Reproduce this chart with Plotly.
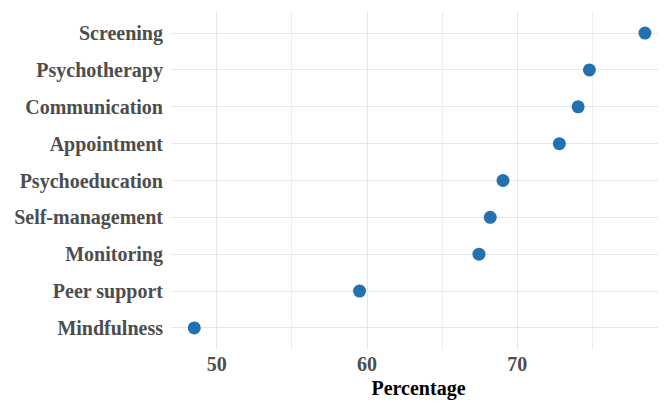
import plotly.graph_objects as go

categories = ["Screening", "Psychotherapy", "Communication", "Appointment",
              "Psychoeducation", "Self-management", "Monitoring",
              "Peer support", "Mindfulness"]
percentages = [78.5, 74.8, 74.05, 72.8, 69.05, 68.2, 67.45, 59.5, 48.5]
x_ticks = [50, 60, 70]

# plot from bottom to top
cats_plot = categories[::-1]
vals_plot = percentages[::-1]

fig = go.Figure(go.Scatter(
    x=vals_plot, y=cats_plot, mode="markers",
    marker=dict(size=13, color="#2471b0", line=dict(width=0)),
    hoverinfo="x+y",
))

font_fam = "Liberation Serif, Times New Roman, serif"

# page body has an 8px default margin; size the figure to fit the window
fig.update_layout(
    width=658, height=396,
    margin=dict(l=163, r=0, t=3, b=54),
    plot_bgcolor="white", paper_bgcolor="white",
    showlegend=False,
    font=dict(family=font_fam),
    xaxis=dict(
        automargin=False,
        range=[46.95, 79.9],
        tickvals=x_ticks,
        ticktext=[str(v) for v in x_ticks],
        tickfont=dict(family=font_fam, size=20, color="#4d4d4d", weight="bold"),
        showgrid=True, gridcolor="#e6e6e6", gridwidth=1.4,
        minor=dict(tickvals=[55, 65, 75], showgrid=True,
                   gridcolor="#ececec", gridwidth=1.0),
        zeroline=False, showline=False,
        ticks="", ticklen=0,
        title=dict(text="<b>Percentage</b>",
                   font=dict(family=font_fam, size=20, color="black"),
                   standoff=6),
    ),
    yaxis=dict(
        automargin=False,
        categoryorder="array", categoryarray=cats_plot,
        range=[-0.6, 8.6],
        tickfont=dict(family=font_fam, size=20, color="#4d4d4d", weight="bold"),
        showgrid=True, gridcolor="#e6e6e6", gridwidth=1.4,
        zeroline=False, showline=False,
        ticks="outside", ticklen=3, tickcolor="rgba(0,0,0,0)",
    ),
)

fig.write_html("out.html")
